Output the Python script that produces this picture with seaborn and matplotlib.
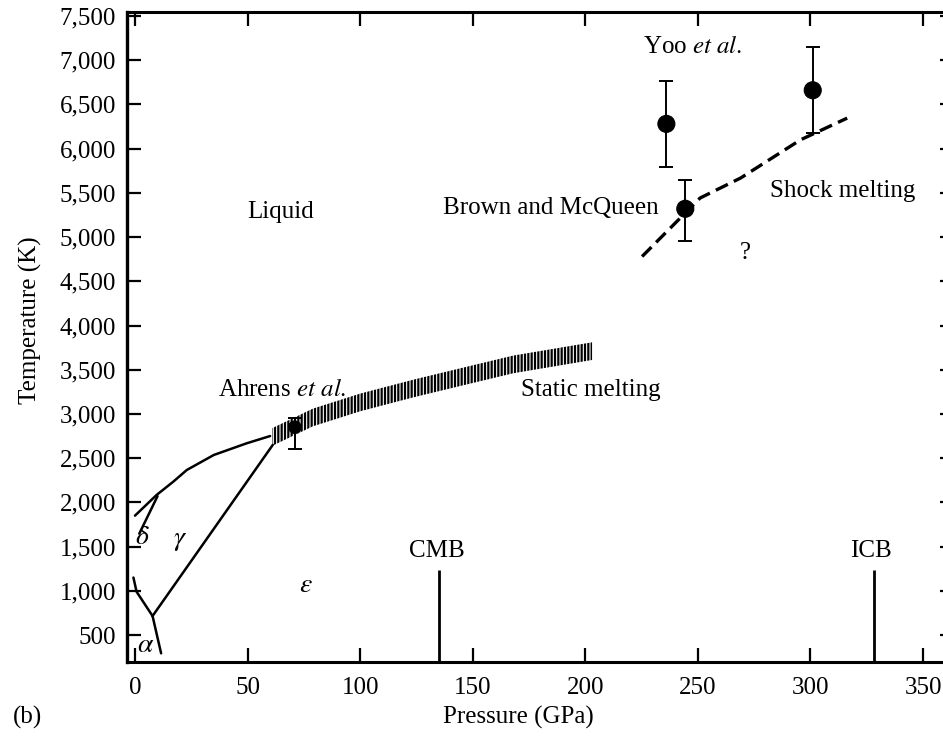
import numpy as np
import pandas as pd
import matplotlib
matplotlib.use("Agg")
import matplotlib.pyplot as plt
import seaborn as sns
from matplotlib.ticker import FuncFormatter

# ---------------- data ----------------
melt_p = [0, 9.6, 17, 23, 35, 49.6, 60]
melt_t = [1850, 2084, 2234, 2366, 2536, 2668, 2750]
delta_gamma_p = [1.9, 10]
delta_gamma_t = [1646, 2070]
alpha_gamma_p = [-0.7, 0.7, 7.8]
alpha_gamma_t = [1150, 990, 715]
alpha_eps_p = [7.8, 11.6]
alpha_eps_t = [715, 293]
gamma_eps_p = [7.8, 61.2]
gamma_eps_t = [715, 2650]

static_p = [61, 79, 100, 124, 150, 168, 203]
static_t = [2740, 2960, 3130, 3290, 3450, 3560, 3710]
static_halfwidth = 100

shock_p = [225.2, 251, 269, 295.6, 316.3]
shock_t = [4780, 5442, 5668, 6100, 6345]

point_names = ["Ahrens", "Brown and McQueen", "Yoo 1", "Yoo 2"]
point_p = [71, 244.4, 236, 301]
point_t = [2850, 5320, 6280, 6660]
point_err_low = [250, 360, 490, 485]
point_err_high = [100, 330, 490, 485]

boundary_names = ["CMB", "ICB"]
boundary_p = [135, 328]
boundary_top = [1230, 1230]

x_ticks = [0, 50, 100, 150, 200, 250, 300, 350]
y_ticks = [500, 1000, 1500, 2000, 2500, 3000, 3500, 4000, 4500, 5000,
           5500, 6000, 6500, 7000, 7500]

# ---------------- style ----------------
sns.set_theme(style="ticks")
plt.rcParams["font.family"] = ["Liberation Serif", "DejaVu Serif"]
plt.rcParams["mathtext.fontset"] = "stix"
plt.rcParams["hatch.linewidth"] = 1.6
plt.rcParams["text.color"] = "black"
plt.rcParams["axes.labelcolor"] = "black"
plt.rcParams["xtick.color"] = "black"
plt.rcParams["ytick.color"] = "black"
plt.rcParams["axes.edgecolor"] = "black"
FS = 18

fig = plt.figure(figsize=(9.43, 7.4), dpi=100)
W, H = 943, 740
ax = fig.add_axes([127 / W, 1 - 662 / H, (944 - 127) / W, (662 - 12) / H])
ax.set_xlim(-3.55, 359.3)
ax.set_ylim(195, 7545)

lw = 1.8
for px, ty in [(melt_p, melt_t), (delta_gamma_p, delta_gamma_t),
               (alpha_gamma_p, alpha_gamma_t), (alpha_eps_p, alpha_eps_t),
               (gamma_eps_p, gamma_eps_t)]:
    sns.lineplot(x=px, y=ty, sort=False, estimator=None, color="black",
                 lw=lw, ax=ax)

# static melting hatched band
sp = np.array(static_p)
st = np.array(static_t)
ax.fill_between(sp, st - static_halfwidth, st + static_halfwidth,
                facecolor="none", edgecolor="black", hatch="|||||",
                linewidth=0, zorder=2)

# shock melting dashed curve
sns.lineplot(x=shock_p, y=shock_t, sort=False, estimator=None, color="black",
             lw=2.4, linestyle=(0, (4, 2)), ax=ax)

# data points with error bars
ax.errorbar(point_p, point_t, yerr=[point_err_low, point_err_high], fmt="none",
            ecolor="black", elinewidth=1.4, capsize=5, capthick=1.4, zorder=4)
sizes = [80, 150, 150, 150]
sns.scatterplot(x=point_p, y=point_t, size=point_names,
                sizes=dict(zip(point_names, sizes)),
                color="black", edgecolor="black", legend=False, zorder=5, ax=ax)

# CMB / ICB
ax.vlines(boundary_p, ymin=195, ymax=boundary_top, colors="black", lw=2.0)
for name, p in zip(boundary_names, boundary_p):
    ax.text(p - 1, 1450, name, ha="center", va="center", fontsize=FS)

# annotations
ax.text(64.8, 5283, "Liquid", ha="center", va="center", fontsize=FS)
ax.text(247.8, 7149, r"Yoo $\it{et\ al.}$", ha="center", va="center", fontsize=FS)
ax.text(184.8, 5329, "Brown and McQueen", ha="center", va="center", fontsize=FS)
ax.text(314.5, 5521, "Shock melting", ha="center", va="center", fontsize=FS)
ax.text(270.9, 4820, "?", ha="center", va="center", fontsize=FS)
ax.text(65.3, 3271, r"Ahrens $\it{et\ al.}$", ha="center", va="center", fontsize=FS)
ax.text(202.5, 3271, "Static melting", ha="center", va="center", fontsize=FS)
ax.text(3.1, 1608, r"$\delta$", ha="center", va="center", fontsize=FS + 2)
ax.text(20, 1574, r"$\gamma$", ha="center", va="center", fontsize=FS + 2)
ax.text(76, 1065, r"$\varepsilon$", ha="center", va="center", fontsize=FS + 2)
ax.text(4.9, 387, r"$\alpha$", ha="center", va="center", fontsize=FS + 2)

# axes formatting
ax.set_xticks(x_ticks)
ax.set_yticks(y_ticks)
ax.yaxis.set_major_formatter(FuncFormatter(lambda v, _: f"{int(v):,}"))
ax.tick_params(axis="both", direction="in", length=10, width=1.6,
               labelsize=FS, colors="black", pad=8)
ax.tick_params(axis="x", pad=11, top=True)
ax.tick_params(axis="y", right=False)
for s in ["left", "bottom", "top"]:
    ax.spines[s].set_visible(True)
    ax.spines[s].set_color("black")
ax.spines["right"].set_visible(False)
ax.spines["left"].set_linewidth(2.4)
ax.spines["bottom"].set_linewidth(2.2)
ax.spines["top"].set_linewidth(2.2)

# short tick marks along the (cropped) right edge
axr = ax.twinx()
axr.set_ylim(ax.get_ylim())
axr.set_yticks(y_ticks)
axr.tick_params(axis="y", direction="in", length=3, width=1.6,
                labelright=False, colors="black")
for s in axr.spines.values():
    s.set_visible(False)

ax.set_xlabel("Pressure (GPa)", fontsize=FS, va="center")
ax.xaxis.set_label_coords((518 - 127) / 817, (662 - 717) / 650)
ax.set_ylabel("Temperature (K)", fontsize=FS, va="center")
ax.yaxis.set_label_coords((30 - 127) / 817, (662 - 320) / 650)

fig.text(27 / W, 1 - 717 / H, "(b)", fontsize=FS, ha="center", va="center")

fig.savefig("out.png", dpi=100)
